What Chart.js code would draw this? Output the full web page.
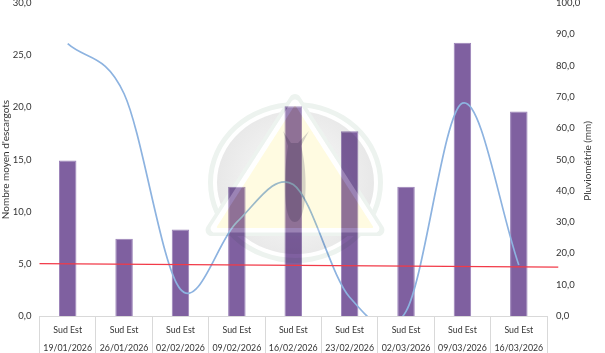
<!DOCTYPE html>
<html><head><meta charset="utf-8">
<style>html,body{margin:0;padding:0;background:#fff}canvas{display:block;filter:blur(0.35px)}</style>
<script src="https://cdn.jsdelivr.net/npm/chart.js@4"></script></head>
<body><canvas id="c" width="605" height="353"></canvas>
<script>
const regions=["Sud Est","Sud Est","Sud Est","Sud Est","Sud Est","Sud Est","Sud Est","Sud Est","Sud Est"];
const dates=["19/01/2026","26/01/2026","02/02/2026","09/02/2026","16/02/2026","23/02/2026","02/03/2026","09/03/2026","16/03/2026"];
const escargots=[14.9,7.4,8.3,12.4,20.1,17.7,12.4,26.2,19.6];
const pluie=[87,71,8.5,30,42,6,1.5,68,16.3];
const trendX=[0,9.2];
const trendY=[5.02,4.68];
const leftTicksMax=30, rightTicksMax=100;
const rightTitle="Pluviométrie (mm)";
const FONT='Lato,"Open Sans",sans-serif';
const fmt=v=>v.toFixed(1).replace('.',',');
const txt='#333333';
function triPath(g,d,r){
  const c=[295,187],k=(41+d)/41;
  const p=[[295,105],[374,228],[216,228]].map(q=>[c[0]+(q[0]-c[0])*k,c[1]+(q[1]-c[1])*k]);
  const m=[(p[0][0]+p[2][0])/2,(p[0][1]+p[2][1])/2];
  g.moveTo(m[0],m[1]);
  g.arcTo(p[0][0],p[0][1],p[1][0],p[1][1],r);
  g.arcTo(p[1][0],p[1][1],p[2][0],p[2][1],r);
  g.arcTo(p[2][0],p[2][1],p[0][0],p[0][1],r);
  g.closePath();
}
const watermark={id:'watermark',afterDraw(ch){
  const g=ch.ctx,cx=295.5,cy=182.5;g.save();
  g.save();
  g.beginPath();g.rect(0,0,605,353);triPath(g,8,6);g.clip('evenodd');
  g.globalCompositeOperation='multiply';
  g.fillStyle='#edf3ef';g.beginPath();g.ellipse(cx,cy,87.5,80.5,0,0,7);g.ellipse(cx,cy,82.5,75.5,0,0,7);g.fill('evenodd');
  const r=g.createRadialGradient(cx,cy,25,cx,cy,78);r.addColorStop(0,'#f6f6f6');r.addColorStop(1,'#e8e8e8');
  g.fillStyle=r;g.beginPath();g.ellipse(cx,cy,78.5,71.5,0,0,7);g.fill();
  g.restore();
  g.globalCompositeOperation='multiply';
  g.fillStyle='#edf3ef';g.beginPath();triPath(g,8,6);triPath(g,4.5,4);g.fill('evenodd');
  g.fillStyle='#fffde6';g.beginPath();triPath(g,0,1);g.fill();
  g.globalCompositeOperation='source-over';
  g.fillStyle='rgba(255,240,190,.13)';g.beginPath();triPath(g,0,1);g.fill();
  g.fillStyle='rgba(255,255,255,.22)';g.beginPath();triPath(g,4.5,4);triPath(g,0,1);g.fill('evenodd');
  g.globalCompositeOperation='multiply';
  g.fillStyle='#d6d6de';
  g.beginPath();g.moveTo(283,131);g.lineTo(291,143);g.lineTo(298,143);g.lineTo(309,131);g.lineTo(301,146);
  g.bezierCurveTo(308,170,308,222,295,222);g.bezierCurveTo(282,222,284,170,288,146);g.closePath();g.fill();
  g.restore();
}};
const rightTitlePlugin={id:'rightTitle',afterDraw(ch){
  const g=ch.ctx;g.save();g.translate(588,161);g.rotate(-Math.PI/2);
  g.font='10px '+FONT;g.fillStyle=txt;g.textAlign='center';g.textBaseline='middle';g.fillText(rightTitle,0,0);g.restore();
}};
// even-spaced smoothing of the rain line, as the source spreadsheet draws it
const smooth={id:'smooth',beforeDatasetsDraw(ch){
  const meta=ch.getDatasetMeta(1);
  meta.dataset.updateControlPoints(ch.chartArea,'x');
  const P=meta.data,n=P.length;
  for(let i=0;i<n;i++){
    const a=P[Math.max(i-1,0)],b=P[Math.min(i+1,n-1)],k=(i===0||i===n-1)?1/3:1/6;
    P[i].cp1x=P[i].x-(b.x-a.x)*k;P[i].cp1y=P[i].y-(b.y-a.y)*k;
    P[i].cp2x=P[i].x+(b.x-a.x)*k;P[i].cp2y=P[i].y+(b.y-a.y)*k;
  }
}};
new Chart(document.getElementById('c'),{
  type:'bar',
  plugins:[smooth,watermark,rightTitlePlugin],
  data:{labels:regions.map((r,i)=>[r,dates[i]]),datasets:[
    {type:'line',label:'Tendance',data:trendX.map((x,i)=>({x,y:trendY[i]})),xAxisID:'xt',yAxisID:'y',borderColor:'#f23a48',borderWidth:1.2,pointRadius:0,clip:false,order:1},
    {type:'line',label:rightTitle,data:pluie,xAxisID:'x',yAxisID:'y2',borderColor:'#8db3e0',borderWidth:1.7,pointRadius:0,tension:.4,capBezierPoints:false,order:2},
    {type:'bar',label:"Nombre moyen d'escargots",data:escargots,xAxisID:'x',yAxisID:'y',backgroundColor:'#7f60a0',borderColor:'#9a82b8',borderWidth:1,grouped:false,categoryPercentage:1,barPercentage:.31,order:3}
  ]},
  options:{responsive:false,animation:false,
    layout:{padding:{top:3,left:0,right:0,bottom:0}},
    plugins:{legend:{display:false},tooltip:{enabled:false}},
    scales:{
      x:{type:'category',grid:{drawOnChartArea:false,drawTicks:true,tickLength:37,color:'#d9d9d9',offset:true},border:{color:'#d9d9d9'},
         ticks:{color:txt,font:{family:FONT,size:8.8,lineHeight:2.05},padding:-32,maxRotation:0,autoSkip:false},
         afterFit(s){s.height=37;s.paddingLeft=0;s.paddingRight=0;}},
      xt:{type:'linear',display:false,min:0,max:9,offset:false},
      y:{position:'left',min:0,max:leftTicksMax,grid:{display:false},border:{display:false},
         ticks:{stepSize:5,color:txt,font:{family:FONT,size:9.5},padding:0,callback:v=>fmt(v)},
         title:{display:true,text:"Nombre moyen d'escargots",color:txt,font:{family:FONT,size:10},padding:0},
         afterFit(s){s.width=39.5;s.paddingTop=0;s.paddingBottom=0;}},
      y2:{position:'right',min:0,max:rightTicksMax,grid:{display:false},border:{display:false},
         ticks:{stepSize:10,color:txt,font:{family:FONT,size:9.5},padding:1,callback:v=>fmt(v)},
         afterFit(s){s.width=58;s.paddingTop=0;s.paddingBottom=0;}}
    }
  }
});
</script></body></html>
